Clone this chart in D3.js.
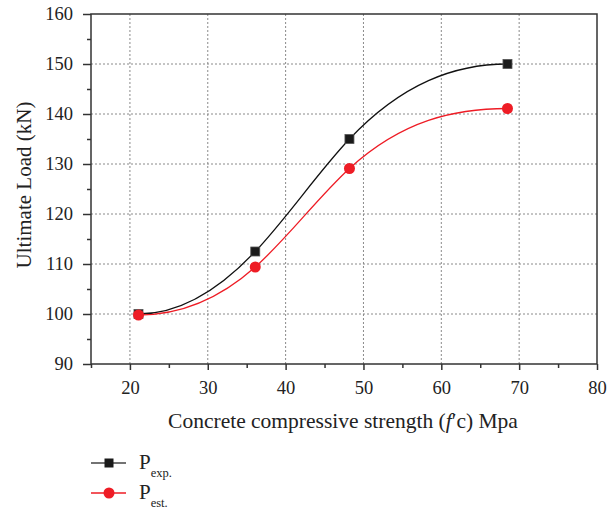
<!DOCTYPE html>
<html>
<head>
<meta charset="UTF-8" />
<title>Ultimate load vs concrete strength</title>
<script src="https://d3js.org/d3.v7.min.js"></script>
<style>
  body { margin: 0; background: #fff; }
  svg text { font-family: "Liberation Serif", "DejaVu Serif", serif; fill: #222; }
  .grid line { stroke: #8a8a8a; stroke-width: 1; stroke-dasharray: 2,2; }
</style>
</head>
<body>
<svg id="chart" width="608" height="511"></svg>
<script>
// data
var strength = [21.1, 36.1, 48.2, 68.5];
var pExp = [100.0, 112.5, 135.0, 150.0];
var pEst = [99.8, 109.4, 129.1, 141.1];
var xTicks = [20, 30, 40, 50, 60, 70, 80];
var yTicks = [90, 100, 110, 120, 130, 140, 150, 160];

var svg = d3.select('#chart');
var pLeft = 91, pRight = 597, pTop = 14, pBottom = 364;

var x = d3.scaleLinear().domain([15, 80]).range([pLeft, pRight]);
var y = d3.scaleLinear().domain([90, 160]).range([pBottom, pTop]);

// clamped cubic spline (zero slope at both ends), like the origin plot
function ClampedSpline(context) { this._context = context; }
ClampedSpline.prototype = {
  areaStart: function () { this._line = 0; },
  areaEnd: function () { this._line = NaN; },
  lineStart: function () { this._x = []; this._y = []; },
  point: function (px, py) { this._x.push(+px); this._y.push(+py); },
  lineEnd: function () {
    var xs = this._x, ys = this._y, n = xs.length, c = this._context;
    if (!n) return;
    c.moveTo(xs[0], ys[0]);
    if (n < 3) { for (var k = 1; k < n; k++) c.lineTo(xs[k], ys[k]); return; }
    var h = [], d = [], i;
    for (i = 0; i < n - 1; i++) { h[i] = xs[i + 1] - xs[i]; d[i] = (ys[i + 1] - ys[i]) / h[i]; }
    // tridiagonal system for tangents, m0 = mn = 0
    var a = [], b = [], cc = [], r = [];
    for (i = 1; i < n - 1; i++) {
      a[i] = h[i]; b[i] = 2 * (h[i - 1] + h[i]); cc[i] = h[i - 1];
      r[i] = 3 * (h[i] * d[i - 1] + h[i - 1] * d[i]);
    }
    var m = new Array(n).fill(0);
    for (i = 2; i < n - 1; i++) {
      var w = a[i] / b[i - 1];
      b[i] -= w * cc[i - 1]; r[i] -= w * r[i - 1];
    }
    for (i = n - 2; i >= 1; i--) m[i] = (r[i] - (i < n - 2 ? cc[i] * m[i + 1] : 0)) / b[i];
    for (i = 0; i < n - 1; i++) {
      c.bezierCurveTo(xs[i] + h[i] / 3, ys[i] + m[i] * h[i] / 3,
                      xs[i + 1] - h[i] / 3, ys[i + 1] - m[i + 1] * h[i] / 3,
                      xs[i + 1], ys[i + 1]);
    }
  }
};
function curveClamped(context) { return new ClampedSpline(context); }

// grid
var grid = svg.append('g').attr('class', 'grid');
grid.selectAll('line.v')
    .data(xTicks.filter(function (d) { return d < 80; }))
    .enter().append('line')
    .attr('x1', function (d) { return x(d); })
    .attr('x2', function (d) { return x(d); })
    .attr('y1', pTop).attr('y2', pBottom);
grid.selectAll('line.h')
    .data(yTicks.filter(function (d) { return d > 90 && d < 160; }))
    .enter().append('line')
    .attr('y1', function (d) { return y(d); })
    .attr('y2', function (d) { return y(d); })
    .attr('x1', pLeft).attr('x2', pRight);

// axes
svg.append('g').attr('class', 'ax').attr('transform', 'translate(0,' + pBottom + ')')
    .call(d3.axisBottom(x).tickValues(xTicks).tickSize(6).tickPadding(11));
svg.append('g').attr('class', 'ax').attr('transform', 'translate(0,' + pBottom + ')')
    .call(d3.axisBottom(x).tickValues(d3.range(15, 80, 10)).tickSize(4).tickFormat(''));
svg.append('g').attr('class', 'ax').attr('transform', 'translate(' + pLeft + ',0)')
    .call(d3.axisLeft(y).tickValues(yTicks).tickSize(8).tickPadding(10));
svg.append('g').attr('class', 'ax').attr('transform', 'translate(' + pLeft + ',0)')
    .call(d3.axisLeft(y).tickValues(d3.range(95, 160, 10)).tickSize(4).tickFormat(''));

svg.selectAll('.ax').attr('font-size', 18.5).attr('font-family', '"Liberation Serif", serif');
svg.selectAll('.domain').remove();
svg.selectAll('.tick line').attr('stroke', '#333').attr('stroke-width', 1.5);
svg.selectAll('.tick text').attr('fill', '#222');

// frame
svg.append('rect')
    .attr('x', pLeft).attr('y', pTop)
    .attr('width', pRight - pLeft).attr('height', pBottom - pTop)
    .attr('fill', 'none').attr('stroke', '#333').attr('stroke-width', 1.5);

// curves
var expPts = strength.map(function (d, i) { return [d, pExp[i]]; });
var estPts = strength.map(function (d, i) { return [d, pEst[i]]; });
var line = d3.line()
    .x(function (d) { return x(d[0]); })
    .y(function (d) { return y(d[1]); })
    .curve(curveClamped);

svg.append('path').datum(expPts).attr('d', line)
    .attr('fill', 'none').attr('stroke', '#111').attr('stroke-width', 1.3);
svg.append('path').datum(estPts).attr('d', line)
    .attr('fill', 'none').attr('stroke', '#ee1c25').attr('stroke-width', 1.3);

svg.selectAll('rect.sq').data(expPts).enter().append('rect')
    .attr('x', function (d) { return x(d[0]) - 4.5; })
    .attr('y', function (d) { return y(d[1]) - 4.5; })
    .attr('width', 9).attr('height', 9)
    .attr('fill', '#1a1a1a').attr('stroke', '#555').attr('stroke-width', 0.8);
svg.selectAll('circle.dot').data(estPts).enter().append('circle')
    .attr('cx', function (d) { return x(d[0]); })
    .attr('cy', function (d) { return y(d[1]); })
    .attr('r', 5.5).attr('fill', '#ee1c25');

// axis titles
var xt = svg.append('text')
    .attr('x', 343).attr('y', 428)
    .attr('text-anchor', 'middle').attr('font-size', 21.5);
xt.append('tspan').text('Concrete compressive strength (');
xt.append('tspan').attr('font-style', 'italic').text('f');
xt.append('tspan').text('\u2032c) Mpa');

svg.append('text')
    .attr('transform', 'translate(31,185) rotate(-90)')
    .attr('text-anchor', 'middle').attr('font-size', 21)
    .text('Ultimate Load (kN)');

// legend
var legend = [
  { name: 'P', sub: 'exp.', color: '#444', kind: 'square', y: 463 },
  { name: 'P', sub: 'est.', color: '#ee1c25', kind: 'circle', y: 493 }
];
legend.forEach(function (d) {
  var g = svg.append('g');
  g.append('line').attr('x1', 91).attr('x2', 126).attr('y1', d.y).attr('y2', d.y)
      .attr('stroke', d.color).attr('stroke-width', 1.3);
  if (d.kind === 'square') {
    g.append('rect').attr('x', 104.5).attr('y', d.y - 4.5).attr('width', 9).attr('height', 9)
        .attr('fill', '#1a1a1a');
  } else {
    g.append('circle').attr('cx', 109).attr('cy', d.y).attr('r', 5.5).attr('fill', '#ee1c25');
  }
  var t = g.append('text').attr('x', 139).attr('y', d.y + 6).attr('font-size', 21);
  t.append('tspan').text(d.name);
  t.append('tspan').attr('font-size', 12.5).attr('dy', 7.5).text(d.sub);
});
</script>
</body>
</html>
